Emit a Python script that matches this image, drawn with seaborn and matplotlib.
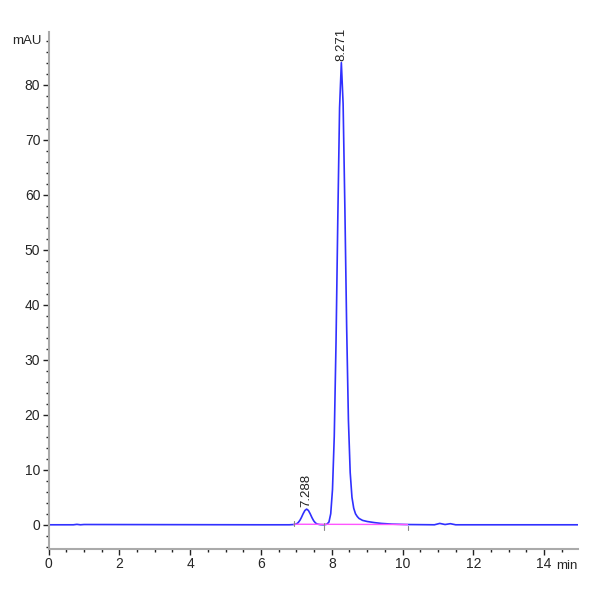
import matplotlib
matplotlib.use('Agg')
import matplotlib.pyplot as plt
import seaborn as sns
import pandas as pd
from matplotlib.ticker import MultipleLocator

# chromatogram trace (min, mAU)
time_min = [0.0, 0.7, 0.8, 0.9, 1.0, 6.0, 6.8, 6.93,
            7.0, 7.05, 7.1, 7.14, 7.19, 7.24, 7.29, 7.34, 7.39, 7.44, 7.49, 7.54, 7.59, 7.67, 7.78, 7.86,
            7.92, 7.97, 8.02, 8.07, 8.12, 8.17, 8.22, 8.27, 8.32, 8.37, 8.42, 8.47, 8.52, 8.57,
            8.62, 8.67, 8.72, 8.77, 8.87, 9.0, 9.2, 9.4, 9.7, 10.1,
            10.9, 11.05, 11.2, 11.35, 11.5, 12.0, 15.0]
signal_mau = [0.0, 0.0, 0.08, 0.0, 0.05, 0.0, 0.0, 0.05,
              0.15, 0.39, 0.82, 1.3, 2.0, 2.6, 2.85, 2.6, 2.0, 1.3, 0.71, 0.33, 0.13, 0.03, 0.0, 0.1,
              0.5, 2.0, 6.4, 16.1, 33.2, 55.6, 75.8, 84.0, 76.5, 57.5, 36.0, 19.0, 9.5, 5.0,
              3.0, 2.0, 1.5, 1.15, 0.8, 0.6, 0.4, 0.25, 0.12, 0.05,
              0.0, 0.25, 0.05, 0.2, 0.0, 0.0, 0.0]

# integrated peaks
peak_rt = [7.288, 8.271]
peak_height = [2.85, 84.0]
peak_labels = ['7.288', '8.271']

# integration baseline and event marks
baseline_t = [6.93, 10.14]
baseline_y = [0.1, 0.05]
event_t = [6.93, 7.78, 10.14]
event_lo = [-0.2, -0.9, -0.9]
event_hi = [0.7, 0.3, -0.2]

df = pd.DataFrame({'min': time_min, 'mAU': signal_mau})

sns.set_style('ticks')
plt.rcParams['font.family'] = ['Liberation Sans Narrow', 'Liberation Sans', 'DejaVu Sans']

fig = plt.figure(figsize=(6, 6), dpi=100)
ax = fig.add_axes([0.081, 0.085, 0.882, 0.862])

sns.lineplot(data=df, x='min', y='mAU', ax=ax, color='#3030ff', linewidth=1.2, sort=False)
ax.plot(baseline_t, baseline_y, color='#ff55ff', linewidth=1.0)
for t, lo, hi in zip(event_t, event_lo, event_hi):
    ax.plot([t, t], [lo, hi], color='#888888', linewidth=0.8)

for rt, h, lab in zip(peak_rt, peak_height, peak_labels):
    ax.text(rt, h + 0.3, lab, rotation=90, ha='center', va='bottom', fontsize=9.5,
            color='#222222', family=['Liberation Sans', 'DejaVu Sans'])

ax.set_xlim(0, 14.95)
ax.set_ylim(-4.4, 89.6)
ax.xaxis.set_minor_locator(MultipleLocator(0.5))
ax.yaxis.set_minor_locator(MultipleLocator(2))
ax.set_xticks([0, 2, 4, 6, 8, 10, 12, 14])
ax.set_yticks([0, 10, 20, 30, 40, 50, 60, 70, 80])
ax.tick_params(which='major', length=4, width=1, color='#222222', labelsize=10, pad=2)
ax.tick_params(which='minor', length=2.5, width=1, color='#222222')
ax.set_xlabel('')
ax.set_ylabel('')

for side in ['top', 'right']:
    ax.spines[side].set_visible(False)
for side in ['left', 'bottom']:
    ax.spines[side].set_color('#aaaaaa')
    ax.spines[side].set_linewidth(1.5)

ax.text(-0.2, 88, 'mAU', ha='right', va='center', fontsize=9.5)
ax.text(14.95, -7.5, 'min', ha='right', va='center', fontsize=9.5)

fig.savefig('out.png', dpi=100)
